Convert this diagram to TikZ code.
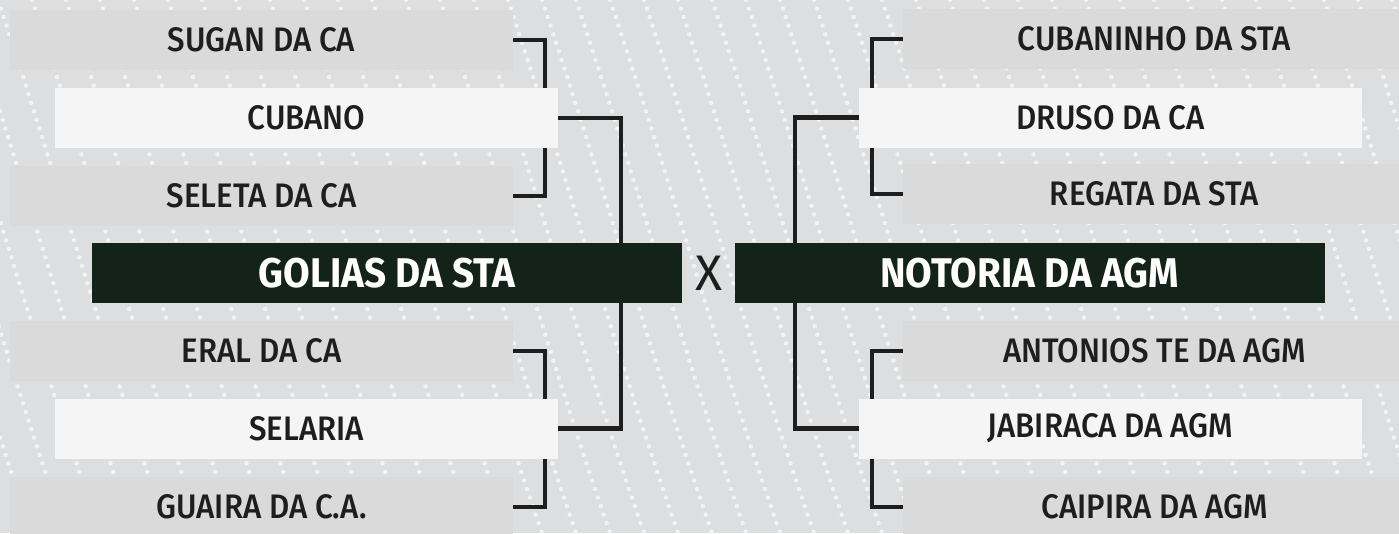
\documentclass[tikz,border=0pt]{standalone}
\usepackage{fontspec}
\newfontfamily\teamfont{Fira Sans}[BoldFont={Fira Sans Medium}, FakeStretch=0.92]
\newfontfamily\finalfont{Fira Sans}[FakeStretch=0.93]
\newfontfamily\versusfont{Fira Sans}
\definecolor{pagebg}{HTML}{DCDEDF}
\definecolor{slotgrey}{HTML}{DADADA}
\definecolor{slotlight}{HTML}{F5F5F5}
\definecolor{finalbg}{HTML}{14231A}
\definecolor{inkdark}{HTML}{1E1E1E}
\pgfdeclarelayer{backdrop}
\pgfdeclarelayer{wires}
\pgfsetlayers{backdrop,wires,main}

\begin{document}
\begin{tikzpicture}[x=1pt, y=-1pt,
    slot/.style={fill=slotgrey, minimum width=503pt, minimum height=60pt, inner sep=0pt, text=inkdark, font=\teamfont\bfseries\fontsize{34}{34}\selectfont},
    pick/.style={slot, fill=slotlight},
    finalist/.style={fill=finalbg, minimum width=590pt, minimum height=60pt, inner sep=0pt, text=white, font=\finalfont\bfseries\fontsize{41.5}{41.5}\selectfont},
    wire/.style={draw=inkdark, line width=4.5pt}]
  \useasboundingbox (0,0) rectangle (1399,533);

  \node[slot] (sugan) at (261.5,40) {SUGAN DA CA};
  \node[pick] (cubano) at (306.5,118) {CUBANO};
  \node[slot] (seleta) at (261.5,196) {SELETA DA CA};
  \node[finalist] (golias) at (387,273) {GOLIAS DA STA};
  \node[slot] (eral) at (261.5,351) {ERAL DA CA};
  \node[pick] (selaria) at (306.5,428.5) {SELARIA};
  \node[slot] (guaira) at (261.5,507) {GUAIRA DA C.A.};

  \node[text=inkdark, font=\versusfont\fontsize{50}{50}\selectfont, inner sep=0pt] (versus) at (709,273) {X};

  \node[slot] (cubaninho) at (1154.5,39) {CUBANINHO DA STA};
  \node[pick] (druso) at (1110.5,117.5) {DRUSO DA CA};
  \node[slot] (regata) at (1154.5,194) {REGATA DA STA};
  \node[finalist] (notoria) at (1029.5,273) {NOTORIA DA AGM};
  \node[slot] (antonios) at (1154.5,351) {ANTONIOS TE DA AGM};
  \node[pick] (jabiraca) at (1110.5,428.5) {JABIRACA DA AGM};
  \node[slot] (caipira) at (1154.5,507) {CAIPIRA DA AGM};

  \coordinate (leftjoin) at (621,0);
  \coordinate (rightjoin) at (795,0);

  \begin{pgfonlayer}{wires}
    \draw[wire] (sugan.east) -- ++(32,0) |- (seleta.east);
    \draw[wire] (eral.east) -- ++(32,0) |- (guaira.east);
    \draw[wire] (cubano.east) -| (leftjoin |- selaria.east) -- (selaria.east);
    \draw[wire] (cubaninho.west) -- ++(-31,0) |- (regata.west);
    \draw[wire] (antonios.west) -- ++(-31,0) |- (caipira.west);
    \draw[wire] (druso.west) -| (rightjoin |- jabiraca.west) -- (jabiraca.west);
  \end{pgfonlayer}

  \begin{pgfonlayer}{backdrop}
    \fill[pagebg] (0,0) rectangle (1399,533);
    \foreach \x in {-240,-206,...,1400}
      \draw[white, opacity=0.65, line width=4.5pt, line cap=round, dash pattern=on 0pt off 9pt]
        (\x,0) .. controls (\x+60,180) and (\x+110,360) .. (\x+170,533);
  \end{pgfonlayer}
\end{tikzpicture}
\end{document}
